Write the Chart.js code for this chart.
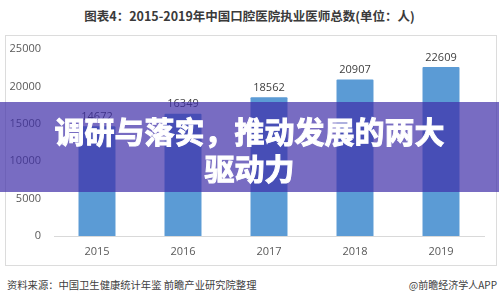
<!DOCTYPE html>
<html>
<head>
<meta charset="utf-8">
<script src="https://cdn.jsdelivr.net/npm/chart.js@4"></script>
<style>
  body { margin: 0; width: 499px; height: 302px; background: #fff; position: relative; overflow: hidden;
         font-family: "Noto Sans CJK SC", sans-serif; }
  #title { position: absolute; left: 0; top: 6px; width: 499px; text-align: center; font-size: 12.5px;
           font-weight: bold; color: #3a3a3a; }
  #box { position: absolute; left: 5px; top: 35px; width: 490px; height: 229px; border: 1px solid #dcdcdc; }
  #source { position: absolute; left: 7px; top: 277px; font-size: 10.3px; color: #404040; }
  #app { position: absolute; right: 2px; top: 277px; font-size: 10px; color: #404040; }
  #band { position: absolute; left: 0; top: 102px; width: 499px; height: 90px; background: rgba(62, 46, 168, 0.7);
          color: #fff; font-weight: bold; font-size: 30px; line-height: 37px; text-align: center; padding-top: 10px;
          box-sizing: border-box; -webkit-text-stroke: 1px #fff; }
</style>
</head>
<body>
<div id="title">图表4：2015-2019年中国口腔医院执业医师总数(单位：人)</div>
<div id="box"><canvas id="ctx" width="490" height="229"></canvas></div>
<div id="source">资料来源：中国卫生健康统计年鉴 前瞻产业研究院整理</div>
<div id="app">@前瞻经济学人APP</div>
<div id="band">调研与落实，推动发展的两大<br>驱动力</div>
<script>
const years = ['2015', '2016', '2017', '2018', '2019']
const doctors = [14672, 16349, 18562, 20907, 22609]
const yTicks = [0, 5000, 10000, 15000, 20000, 25000]

// numbers above each bar
const valueLabels = {
  id: 'valueLabels',
  afterDatasetsDraw(chart) {
    const c = chart.ctx
    const meta = chart.getDatasetMeta(0)
    c.save()
    c.font = '11px "Open Sans", sans-serif'
    c.fillStyle = '#404040'
    c.textAlign = 'center'
    c.textBaseline = 'bottom'
    meta.data.forEach((bar, i) => {
      c.fillText(chart.data.datasets[0].data[i], bar.x, bar.y - 4)
    })
    c.restore()
  }
}

let ctx = document.getElementById('ctx')
const chart = new Chart(ctx, {
  type: 'bar',
  data: {
    labels: years,
    datasets: [{
      data: doctors,
      backgroundColor: '#5b9bd5',
      borderRadius: 1,
      categoryPercentage: 1,
      barPercentage: 0.43
    }]
  },
  options: {
    responsive: false,
    animation: false,
    layout: { padding: { top: 13, right: 12, bottom: 0, left: 0 } },
    plugins: { legend: { display: false }, tooltip: { enabled: false } },
    scales: {
      y: {
        min: 0,
        max: 25000,
        afterFit(s) { s.width = 48 },
        afterBuildTicks(s) { s.ticks = yTicks.map(v => ({ value: v })) },
        grid: { display: false, drawTicks: true, tickLength: 13 },
        border: { display: false },
        ticks: { padding: 0, color: '#595959', font: { size: 11, family: '"Open Sans", sans-serif' },
                 callback: v => String(v) }
      },
      x: {
        afterFit(s) { s.height = 29 },
        grid: { display: false, drawTicks: false },
        border: { display: true, color: '#d9d9d9' },
        ticks: { padding: 9, color: '#595959', font: { size: 11, family: '"Open Sans", sans-serif' } }
      }
    }
  },
  plugins: [valueLabels]
})
</script>
</body>
</html>
